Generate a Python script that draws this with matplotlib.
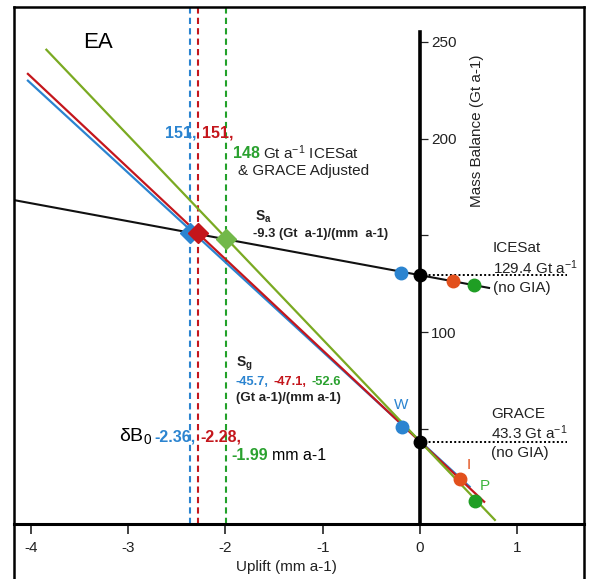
import matplotlib
matplotlib.use("Agg")
import matplotlib.pyplot as plt
from matplotlib.lines import Line2D

plt.rcParams['font.family'] = ['Liberation Sans', 'DejaVu Sans']
plt.rcParams['mathtext.fontset'] = 'custom'
plt.rcParams['mathtext.rm'] = 'Liberation Sans'
plt.rcParams['mathtext.it'] = 'Liberation Sans:italic'
plt.rcParams['mathtext.bf'] = 'Liberation Sans:bold'

# =====================
# data
# =====================
icesat_x = [-4.17, 0.71]
icesat_y = [168.2, 122.8]
blue_x = [-4.03, 0.51]
blue_y = [230.0, 20.0]
red_x = [-4.03, 0.66]
red_y = [233.5, 12.2]
green_x = [-3.84, 0.77]
green_y = [246.0, 2.8]

icesat_mb = 129.4
grace_mb = 43.3
dB0 = [-2.36, -2.28, -1.99]
B_adj = [151, 151, 148]

# points on ICESat line (W, 0, I, P) and on GRACE line
pts_x = [-0.19, 0.0, 0.34, 0.56]
pts_ice = [130.6, 129.4, 126.2, 124.2]
grace_px = [-0.18, 0.0, 0.41, 0.565]
grace_py = [51.0, 43.3, 23.8, 12.4]

xticks = [-4, -3, -2, -1, 0, 1]
yticks = [50, 100, 150, 200, 250]
ylabels = ["", "100", "", "200", "250"]

C_BLUE = "#2b84d0"
C_RED = "#c4161c"
C_GREEN = "#7aaa22"
C_GTXT = "#2aa12f"
C_ORANGE = "#e2501c"
C_GPT = "#1f9e24"
C_GDIAM = "#72b84a"

# =====================
# figure
# =====================
W, H = 592, 579
fig = plt.figure(figsize=(W / 100, H / 100), dpi=100)
ax = fig.add_axes([14 / W, 55 / H, 570 / W, 517 / H])
ax.set_xlim(-4.173, 1.686)
ax.set_ylim(0.7, 268.1)

for s in ['left', 'top']:
    ax.spines[s].set_visible(False)
ax.spines['bottom'].set_linewidth(2.2)
ax.spines['right'].set_position(('data', 0))
ax.spines['right'].set_linewidth(2.6)
ax.spines['right'].set_bounds(0.7, 255)
ax.yaxis.tick_right()
ax.set_yticks(yticks)
ax.set_yticklabels(ylabels)
ax.set_xticks(xticks)
ax.set_xticklabels([str(t) for t in xticks])
ax.tick_params(axis='x', length=7, width=1.2, pad=5, labelsize=11, colors='#222222')
ax.tick_params(axis='y', length=6, width=0.9, pad=2, labelsize=11, colors='#222222')

# outer frame
fw = 1.8
fig.add_artist(Line2D([14 / W, 14 / W], [0, 1 - 7 / H], color='black', lw=fw))
fig.add_artist(Line2D([584 / W, 584 / W], [0, 1 - 7 / H], color='black', lw=fw))
fig.add_artist(Line2D([14 / W, 584 / W], [1 - 7 / H, 1 - 7 / H], color='black', lw=fw))

# vertical dashed lines
for x, c in zip(dB0, [C_BLUE, C_RED, "#22a12a"]):
    ax.axvline(x, color=c, ls=(0, (3, 2)), lw=1.5, zorder=1)

# horizontal dotted lines
ax.plot([0, 1.51], [icesat_mb, icesat_mb], color='black', ls=(0, (1, 1.2)), lw=1.4)
ax.plot([0, 1.51], [grace_mb, grace_mb], color='black', ls=(0, (1, 1.2)), lw=1.4)

# main lines
ax.plot(icesat_x, icesat_y, color='#111111', lw=1.5, zorder=3)
ax.plot(blue_x, blue_y, color=C_BLUE, lw=1.6, zorder=3)
ax.plot(red_x, red_y, color=C_RED, lw=1.6, zorder=3)
ax.plot(green_x, green_y, color=C_GREEN, lw=1.6, zorder=3)

# diamonds at intersections
for x, y, c in zip(dB0, B_adj, [C_BLUE, C_RED, C_GDIAM]):
    ax.plot(x, y, marker='D', ms=10, color=c, mec=c, zorder=5)

# points
pcols = [C_BLUE, 'black', C_ORANGE, C_GPT]
for x, y, c in zip(pts_x, pts_ice, pcols):
    ax.plot(x, y, 'o', ms=9, color=c, zorder=6)
for x, y, c in zip(grace_px, grace_py, pcols):
    ax.plot(x, y, 'o', ms=9, color=c, zorder=6)


# =====================
# text (placed in figure pixels)
# =====================
def ft(x, y, s, **kw):
    kw.setdefault('va', 'center')
    kw.setdefault('fontsize', 11)
    fig.text(x / W, 1 - y / H, s, **kw)


ft(83, 43, "EA", fontsize=16)

ft(165, 133, "151,", color=C_BLUE, fontweight='bold', fontsize=11.5)
ft(202, 133, "151,", color=C_RED, fontweight='bold', fontsize=11.5)
ft(233, 153, "148", color=C_GTXT, fontweight='bold', fontsize=11.5)
ft(263, 153, r"Gt a$^\mathregular{-1}$ ICESat", color='#222222', fontsize=11)
ft(238, 171, "& GRACE Adjusted", color='#222222', fontsize=11)

ft(255, 217, r"S$_\mathregular{a}$", color='#222222', fontweight='bold', fontsize=10)
ft(253, 234, "-9.3 (Gt  a-1)/(mm  a-1)", color='#222222', fontweight='bold', fontsize=9.3)

ft(236, 364, r"S$_\mathregular{g}$", color='#222222', fontweight='bold', fontsize=10)
ft(236, 382, "-45.7,", color=C_BLUE, fontweight='bold', fontsize=9.3)
ft(273, 382, "-47.1,", color=C_RED, fontweight='bold', fontsize=9.3)
ft(312, 382, "-52.6", color=C_GTXT, fontweight='bold', fontsize=9.3)
ft(236, 398, "(Gt a-1)/(mm a-1)", color='#222222', fontweight='bold', fontsize=9.5)

ft(119, 436, r"δB$_\mathregular{0}$", color='black', fontsize=14)
ft(154, 437, "-2.36,", color=C_BLUE, fontweight='bold', fontsize=11.5)
ft(200, 437, "-2.28,", color=C_RED, fontweight='bold', fontsize=11.5)
ft(231, 455, "-1.99", color=C_GTXT, fontweight='bold', fontsize=11.5)
ft(272, 455, "mm a-1", color='black', fontsize=11.5)

ft(493, 248, "ICESat", color='#222222')
ft(493, 268, r"129.4 Gt a$^\mathregular{-1}$", color='#222222')
ft(493, 288, "(no GIA)", color='#222222')

ft(491, 414, "GRACE", color='#222222')
ft(491, 433, r"43.3 Gt a$^\mathregular{-1}$", color='#222222')
ft(491, 453, "(no GIA)", color='#222222')

ft(401, 405, "W", color=C_BLUE, ha='center', fontsize=11)
ft(469, 465, "I", color=C_ORANGE, ha='center', fontsize=11)
ft(485, 486, "P", color="#3db53d", ha='center', fontsize=11)

ft(477, 131, "Mass Balance (Gt a-1)", color='#222222', rotation=90, ha='center')
ft(286, 567, "Uplift (mm a-1)", color='#222222', ha='center')

fig.savefig("out.png", dpi=100)
